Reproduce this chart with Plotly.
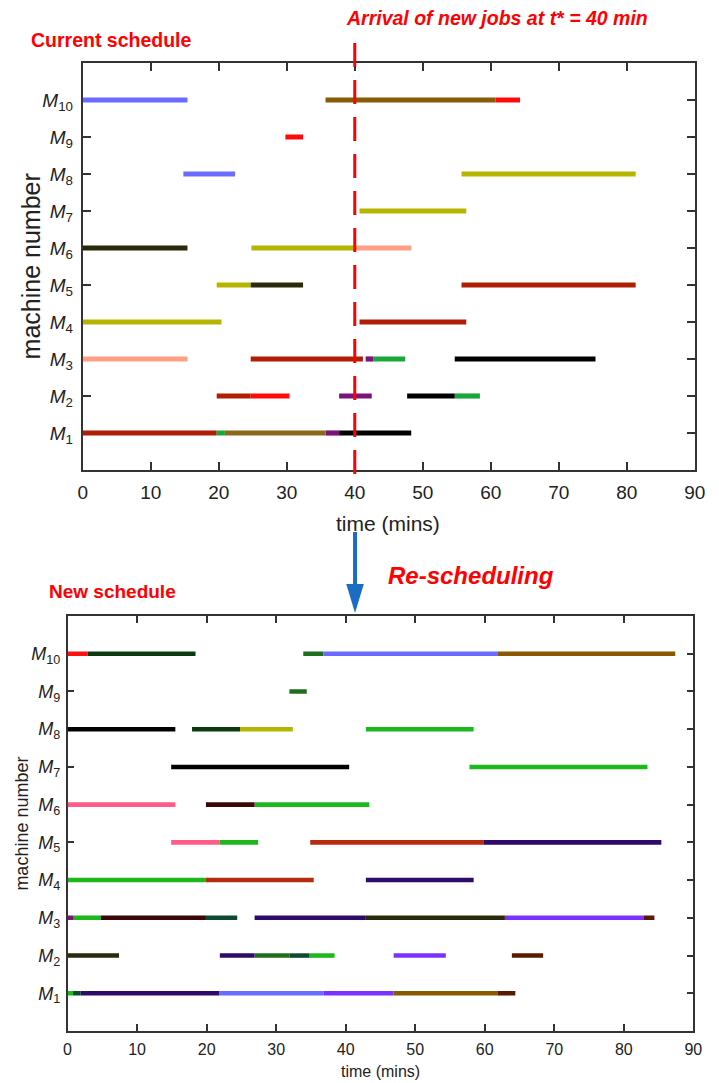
import plotly.graph_objects as go

W, H = 719, 1083

# ---------------- data: current schedule (top) ----------------
top_machine = [10, 10, 10, 9, 8, 8, 7, 6, 6, 6, 5, 5, 5, 4, 4,
               3, 3, 3, 3, 3, 2, 2, 2, 2, 2, 1, 1, 1, 1, 1]
top_start = [0, 35.7, 60.7, 29.8, 14.8, 55.7, 40.7, 0, 24.8, 40.3, 19.7, 24.7, 55.7, 0, 40.7,
             0, 24.7, 41.6, 42.7, 54.7, 19.7, 24.7, 37.7, 47.7, 54.7, 0, 19.7, 20.9, 35.7, 37.7]
top_end = [15.4, 60.7, 64.3, 32.4, 22.4, 81.3, 56.4, 15.4, 40.3, 48.3, 24.7, 32.4, 81.3, 20.4, 56.4,
           15.4, 41.2, 42.7, 47.4, 75.4, 24.7, 30.4, 42.5, 54.7, 58.4, 19.7, 20.9, 35.7, 37.7, 48.3]
top_job = ["J10", "J3", "J6", "J6", "J10", "J8", "J8", "J9", "J8", "J7", "J8", "J9", "J1", "J8", "J1",
           "J7", "J1", "J4", "J2", "J5", "J1", "J6", "J4", "J5", "J2", "J1", "J2", "J3b", "J4", "J5"]

# ---------------- data: new schedule (bottom) ----------------
bot_machine = [10, 10, 10, 10, 10, 9, 8, 8, 8, 8, 7, 7, 6, 6, 6, 5, 5, 5, 5, 4, 4, 4,
               3, 3, 3, 3, 3, 3, 3, 3, 2, 2, 2, 2, 2, 2, 2, 1, 1, 1, 1, 1, 1, 1]
bot_start = [0, 2.9, 33.9, 36.8, 61.9, 31.9, 0, 17.9, 24.8, 42.9, 14.9, 57.8, 0, 19.9, 26.9,
             14.9, 21.9, 34.9, 59.8, 0, 19.9, 42.9,
             0, 0.8, 4.8, 19.9, 26.9, 42.9, 62.9, 82.9,
             0, 21.9, 26.9, 31.9, 34.8, 46.9, 63.9,
             0, 0.8, 1.9, 21.8, 36.8, 46.9, 61.9]
bot_end = [2.9, 18.4, 36.8, 61.9, 87.4, 34.4, 15.5, 24.8, 32.4, 58.4, 40.5, 83.4, 15.5, 26.9, 43.4,
           21.9, 27.4, 59.8, 85.4, 19.9, 35.4, 58.4,
           0.8, 4.8, 19.9, 24.4, 42.9, 62.9, 82.9, 84.4,
           7.4, 26.9, 31.9, 34.8, 38.4, 54.4, 68.4,
           0.8, 1.9, 21.8, 36.8, 46.9, 61.9, 64.4]
bot_job = ["red", "dgreen", "mgreen", "blue", "brown", "mgreen", "black", "dgreen", "olive", "green",
           "black", "green", "pink", "maroon", "green",
           "pink", "green", "rbrown", "indigo", "green", "rbrown", "indigo",
           "purple", "green", "maroon", "teal", "indigo", "dolive", "violet", "dbrown",
           "dolive", "indigo", "mgreen", "teal", "green", "violet", "dbrown",
           "green", "teal", "indigo", "blue", "violet", "brown", "dbrown"]

machine_labels = [f"<i>M</i><sub>{i}</sub>" for i in range(1, 11)]
x_ticks = list(range(0, 91, 10))

# ---------------- styles ----------------
top_colors = {"J1": "#b01e05", "J2": "#17a83a", "J3": "#875a05", "J3b": "#8a6a1a", "J4": "#7a137a",
              "J5": "#000000", "J6": "#ff0a0a", "J7": "#ff9f85", "J8": "#b5b500", "J9": "#2a2a0a",
              "J10": "#6b6bff"}
bot_colors = {"red": "#ff1010", "dgreen": "#0c3a10", "mgreen": "#1e6e1e", "blue": "#6b6bff",
              "brown": "#8b5a00", "black": "#000000", "olive": "#b5b500", "green": "#1cb81c",
              "pink": "#ff5c8a", "maroon": "#3a0808", "rbrown": "#b82a10", "indigo": "#2e0a6a",
              "purple": "#7a137a", "teal": "#0e4a30", "dolive": "#2a2a0a", "violet": "#7a33ff",
              "dbrown": "#5a1a00"}

fig = go.Figure()

def add_bars(machines, starts, ends, jobs, colors, xa, ya, width):
    for job in dict.fromkeys(jobs):
        idx = [i for i, j in enumerate(jobs) if j == job]
        fig.add_trace(go.Bar(
            y=[machines[i] for i in idx],
            x=[ends[i] - starts[i] for i in idx],
            base=[starts[i] for i in idx],
            orientation="h", width=width,
            marker=dict(color=colors[job], line=dict(width=0)),
            xaxis=xa, yaxis=ya, hoverinfo="skip", showlegend=False))

add_bars(top_machine, top_start, top_end, top_job, top_colors, "x", "y", 0.14)
add_bars(bot_machine, bot_start, bot_end, bot_job, bot_colors, "x2", "y2", 0.12)

def py(p):
    return 1 - p / H

def px(p):
    return p / W

axis_font = "Liberation Sans, Arial, sans-serif"
common_x = dict(range=[0, 90], tickvals=x_ticks, ticks="inside", showline=True, mirror="ticks",
                linecolor="#333333", tickcolor="#333333", showgrid=False, zeroline=False,
                fixedrange=True, layer="below traces")
common_y = dict(range=[0, 11], tickvals=list(range(1, 11)), ticktext=machine_labels,
                ticks="inside", showline=True, mirror="ticks", linecolor="#333333",
                tickcolor="#333333", showgrid=False, zeroline=False, fixedrange=True,
                layer="below traces")

fig.update_layout(
    width=W, height=H, margin=dict(l=0, r=0, t=0, b=0),
    paper_bgcolor="white", plot_bgcolor="white", showlegend=False, barmode="overlay",
    font=dict(family=axis_font, color="#222222"),
    xaxis=dict(domain=[px(79.5), px(705.5)], anchor="y", linewidth=2, tickwidth=2, ticklen=8,
               tickfont=dict(size=19), ticklabelstandoff=4, **common_x),
    yaxis=dict(domain=[py(470), py(63)], anchor="x", linewidth=2, tickwidth=2, ticklen=8,
               tickfont=dict(size=19), ticklabelstandoff=4, **common_y),
    xaxis2=dict(domain=[px(64), px(704)], anchor="y2", linewidth=1.5, tickwidth=1.5, ticklen=7,
                tickfont=dict(size=16), ticklabelstandoff=3, **common_x),
    yaxis2=dict(domain=[py(1031), py(616)], anchor="x2", linewidth=1.5, tickwidth=1.5, ticklen=7,
                tickfont=dict(size=18), ticklabelstandoff=2, **common_y),
)

red = "#ff0000"
annotations = [
    dict(text="<b>Current schedule</b>", x=px(25), y=py(40), xanchor="left", yanchor="middle",
         font=dict(size=19.5, color=red)),
    dict(text="<b><i>Arrival of new jobs at t* = 40 min</i></b>", x=px(347), y=py(18),
         xanchor="left", yanchor="middle", font=dict(size=19.5, color=red)),
    dict(text="<b><i>Re-scheduling</i></b>", x=px(390), y=py(575), xanchor="left",
         yanchor="middle", font=dict(size=24, color=red)),
    dict(text="<b>New schedule</b>", x=px(43), y=py(591), xanchor="left", yanchor="middle",
         font=dict(size=19, color=red)),
    dict(text="machine number", x=px(27), y=py(266), textangle=-90, xanchor="center",
         yanchor="middle", font=dict(size=25, color="#222222")),
    dict(text="machine number", x=px(17), y=py(824), textangle=-90, xanchor="center",
         yanchor="middle", font=dict(size=18, color="#222222")),
    dict(text="time (mins)", x=px(392), y=py(523), xanchor="center", yanchor="middle",
         font=dict(size=21, color="#222222")),
    dict(text="time (mins)", x=px(384), y=py(1071), xanchor="center", yanchor="middle",
         font=dict(size=16, color="#222222")),
]
for a in annotations:
    a.update(xref="paper", yref="paper", showarrow=False)
fig.update_layout(annotations=annotations)

arrow_blue = "#1a6cc4"
shapes = [
    # dashed line at t* = 40 min
    dict(type="line", xref="x", yref="paper", x0=40, x1=40, y0=py(43), y1=py(479),
         line=dict(color=red, width=3, dash="24px,13px")),
    # blue arrow shaft
    dict(type="line", xref="paper", yref="paper", x0=px(358), x1=px(358), y0=py(532), y1=py(586),
         line=dict(color=arrow_blue, width=4)),
    # arrow head
    dict(type="path", xref="paper", yref="paper",
         path=f"M {px(349)} {py(584)} L {px(367)} {py(584)} L {px(358)} {py(613)} Z",
         fillcolor=arrow_blue, line=dict(width=0)),
]
fig.update_layout(shapes=shapes)

fig.write_html("out.html")
